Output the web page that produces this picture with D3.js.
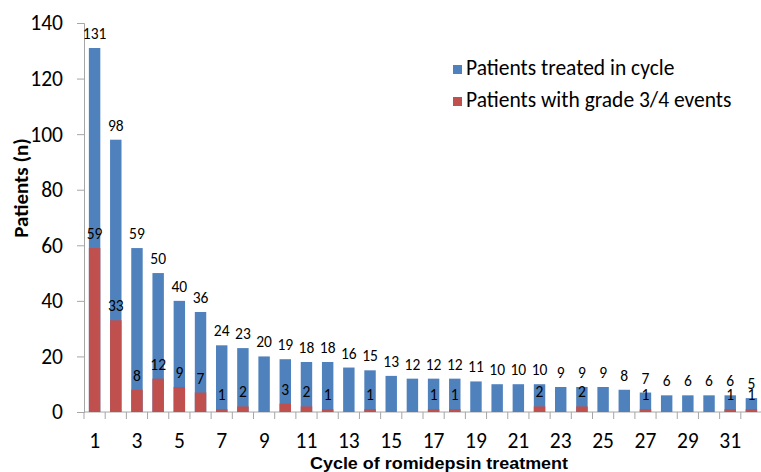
<!DOCTYPE html>
<html>
<head>
<meta charset="utf-8">
<script src="https://cdn.jsdelivr.net/npm/d3@7"></script>
<style>
  body { margin: 0; background: #fff; }
  svg { display: block; }
</style>
</head>
<body>
<svg id="chart" width="761" height="472"></svg>
<script>
// cycles 1..32
var cycles = d3.range(1, 33);
// patients treated in cycle
var treated = [131, 98, 59, 50, 40, 36, 24, 23, 20, 19, 18, 18, 16, 15, 13, 12,
               12, 12, 11, 10, 10, 10, 9, 9, 9, 8, 7, 6, 6, 6, 6, 5];
// patients with grade 3/4 events
var events = [59, 33, 8, 12, 9, 7, 1, 2, 0, 3, 2, 1, 0, 1, 0, 0,
              1, 1, 0, 0, 0, 2, 0, 2, 0, 0, 1, 0, 0, 0, 1, 1];
var yTicks = [0, 20, 40, 60, 80, 100, 120, 140];
var xTickLabels = [1, 3, 5, 7, 9, 11, 13, 15, 17, 19, 21, 23, 25, 27, 29, 31];
var legendItems = ['Patients treated in cycle', 'Patients with grade 3/4 events'];

var BLUE = '#4f81bd', RED = '#c0504d';
var font = 'Carlito, "Open Sans", "DejaVu Sans", sans-serif';

var svg = d3.select('#chart');
var mLeft = 84, mRight = 762, mTop = 23, mBottom = 412;

var x = d3.scaleBand().domain(cycles).range([mLeft, mRight]).paddingInner(0.46).paddingOuter(0.23);
var y = d3.scaleLinear().domain([0, 140]).range([mBottom, mTop]);

// y axis
var yAxis = svg.append('g').attr('transform', 'translate(' + mLeft + ',0)')
  .call(d3.axisLeft(y).tickValues(yTicks).tickSize(7).tickPadding(14));
yAxis.select('.domain').attr('stroke', '#a6a6a6');
yAxis.selectAll('.tick line').attr('stroke', '#a6a6a6');
yAxis.selectAll('text').attr('font-family', font).attr('font-size', 21.5).attr('fill', '#000');

// x axis line + boundary ticks
svg.append('line').attr('x1', mLeft).attr('x2', mRight).attr('y1', mBottom).attr('y2', mBottom)
  .attr('stroke', '#a6a6a6');
var step = x.step();
var bounds = d3.range(0, cycles.length + 1);
svg.selectAll('.xb').data(bounds).enter().append('line')
  .attr('x1', function(d){ return mLeft + d * step; })
  .attr('x2', function(d){ return mLeft + d * step; })
  .attr('y1', mBottom).attr('y2', mBottom + 7)
  .attr('stroke', '#a6a6a6');

// x tick labels
svg.selectAll('.xl').data(xTickLabels).enter().append('text')
  .attr('x', function(d){ return x(d) + x.bandwidth() / 2; })
  .attr('y', 448)
  .attr('text-anchor', 'middle')
  .attr('font-family', font).attr('font-size', 21.5).attr('fill', '#000')
  .text(function(d){ return d; });

// bars
var g = svg.append('g');
g.selectAll('.blue').data(cycles).enter().append('rect')
  .attr('x', function(d){ return x(d); })
  .attr('width', x.bandwidth())
  .attr('y', function(d, i){ return y(treated[i]); })
  .attr('height', function(d, i){ return y(0) - y(treated[i]); })
  .attr('fill', BLUE);
g.selectAll('.red').data(cycles).enter().append('rect')
  .attr('x', function(d){ return x(d); })
  .attr('width', x.bandwidth())
  .attr('y', function(d, i){ return y(events[i]); })
  .attr('height', function(d, i){ return y(0) - y(events[i]); })
  .attr('fill', RED);

// value labels
g.selectAll('.tl').data(cycles).enter().append('text')
  .attr('x', function(d){ return x(d) + x.bandwidth() / 2; })
  .attr('y', function(d, i){ return y(treated[i]) - 9; })
  .attr('text-anchor', 'middle')
  .attr('font-family', font).attr('font-size', 15.5).attr('fill', '#000')
  .text(function(d, i){ return treated[i]; });
g.selectAll('.el').data(cycles.filter(function(d, i){ return events[i] > 0; })).enter().append('text')
  .attr('x', function(d){ return x(d) + x.bandwidth() / 2; })
  .attr('y', function(d){ return y(events[d - 1]) - 9; })
  .attr('text-anchor', 'middle')
  .attr('font-family', font).attr('font-size', 15.5).attr('fill', '#000')
  .text(function(d){ return events[d - 1]; });

// axis titles
svg.append('text')
  .attr('transform', 'translate(28,188) rotate(-90)')
  .attr('text-anchor', 'middle')
  .attr('font-family', font).attr('font-size', 21).attr('font-weight', 'bold').attr('fill', '#000')
  .text('Patients (n)');
svg.append('text')
  .attr('x', 439).attr('y', 469)
  .attr('text-anchor', 'middle')
  .attr('font-family', '"Liberation Sans", Arial, sans-serif')
  .attr('font-size', 16).attr('font-weight', 'bold').attr('fill', '#000')
  .attr('textLength', 258).attr('lengthAdjust', 'spacingAndGlyphs')
  .text('Cycle of romidepsin treatment');

// legend
var lg = svg.append('g').attr('transform', 'translate(453,65)');
lg.selectAll('rect').data(legendItems).enter().append('rect')
  .attr('x', 0).attr('y', function(d, i){ return i * 32; })
  .attr('width', 9).attr('height', 9)
  .attr('fill', function(d, i){ return i ? RED : BLUE; });
lg.selectAll('text').data(legendItems).enter().append('text')
  .attr('x', 13).attr('y', function(d, i){ return i * 32 + 10; })
  .attr('font-family', font).attr('font-size', 21.5).attr('fill', '#000')
  .text(function(d){ return d; });
</script>
</body>
</html>
